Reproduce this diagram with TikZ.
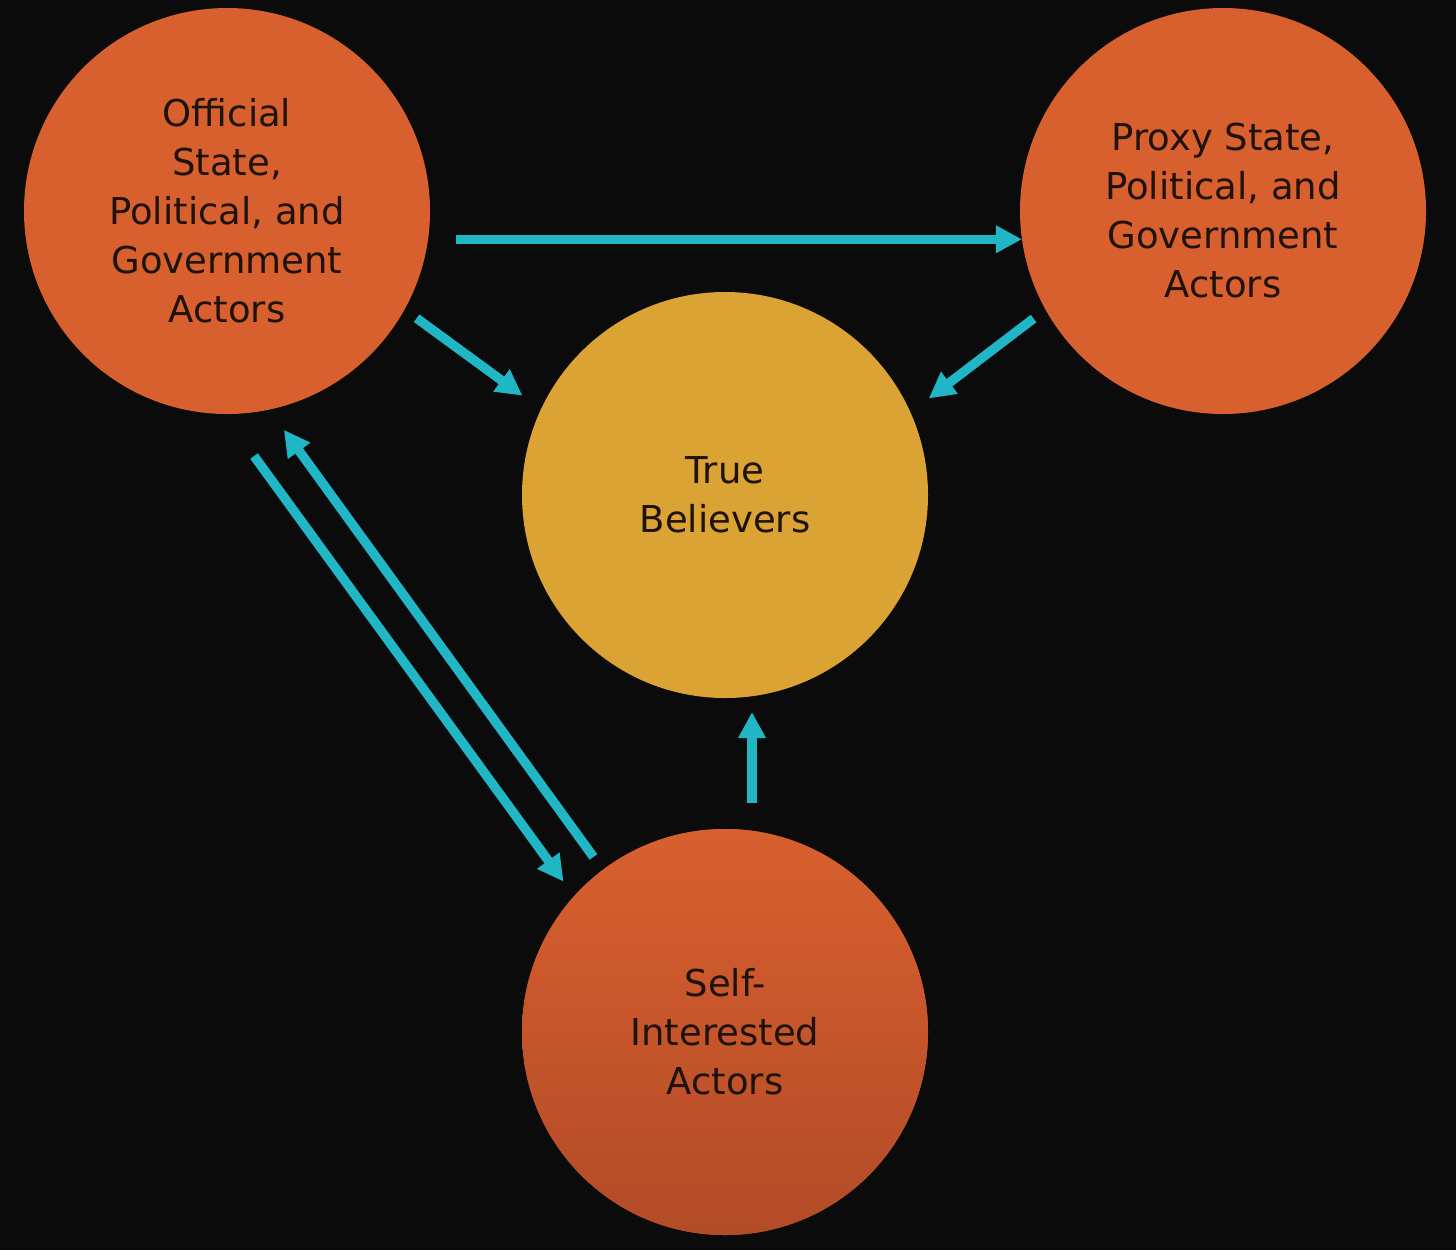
\documentclass[tikz,border=0pt]{standalone}
\usepackage{fontspec}
\setmainfont{DejaVu Sans}
\usetikzlibrary{arrows.meta}
\definecolor{bgblack}{HTML}{0B0B0B}
\definecolor{actororange}{HTML}{D8602F}
\definecolor{actordark}{HTML}{B24B27}
\definecolor{believergold}{HTML}{DBA234}
\definecolor{linkcyan}{HTML}{20B6C6}
\definecolor{labelbrown}{HTML}{1E120A}

\begin{document}
\begin{tikzpicture}[
    x=0.5pt, y=-0.5pt,
    >={Triangle[length=13pt, width=13pt]},
    every node/.style={font=\fontsize{18.5}{24.5}\selectfont, text=labelbrown},
    actor/.style={
        circle, minimum size=203pt, inner sep=0pt, outer sep=0pt,
        align=center, fill=actororange
    },
    believer/.style={actor, fill=believergold},
    link/.style={->, draw=linkcyan, line width=4.7pt}
]

\fill[bgblack] (0,0) rectangle (1456,1250);

\node[actor] (off) at (227,211) {Official\\State,\\Political, and\\Government\\Actors};
\node[actor] (prx) at (1223,211) {Proxy State,\\Political, and\\Government\\Actors};
\node[believer] (tb) at (725,495) {True\\Believers};
\node[actor, top color=actororange, bottom color=actordark] (sia) at (725,1032) {Self-\\Interested\\Actors};

% influence links
\draw[link, shorten <=14pt] (off.-8.5) -- (prx.188.5);
\draw[link, shorten <=7.5pt, shorten >=11.5pt] (off.-29.5) -- (tb.155.7);
\draw[link, shorten <=7.5pt, shorten >=11.5pt] (prx.209.5) -- (tb.24.3);
\draw[link, shorten <=13pt, shorten >=7pt] ([xshift=13.5pt]sia.north) -- ([xshift=13.5pt]tb.south);

\draw[link, shorten <=26pt, shorten >=9pt] (off.-91) -- (sia.138.8);
\draw[link, shorten <=8pt, shorten >=12.5pt] (sia.127.5) -- (off.-78);

\end{tikzpicture}
\end{document}
